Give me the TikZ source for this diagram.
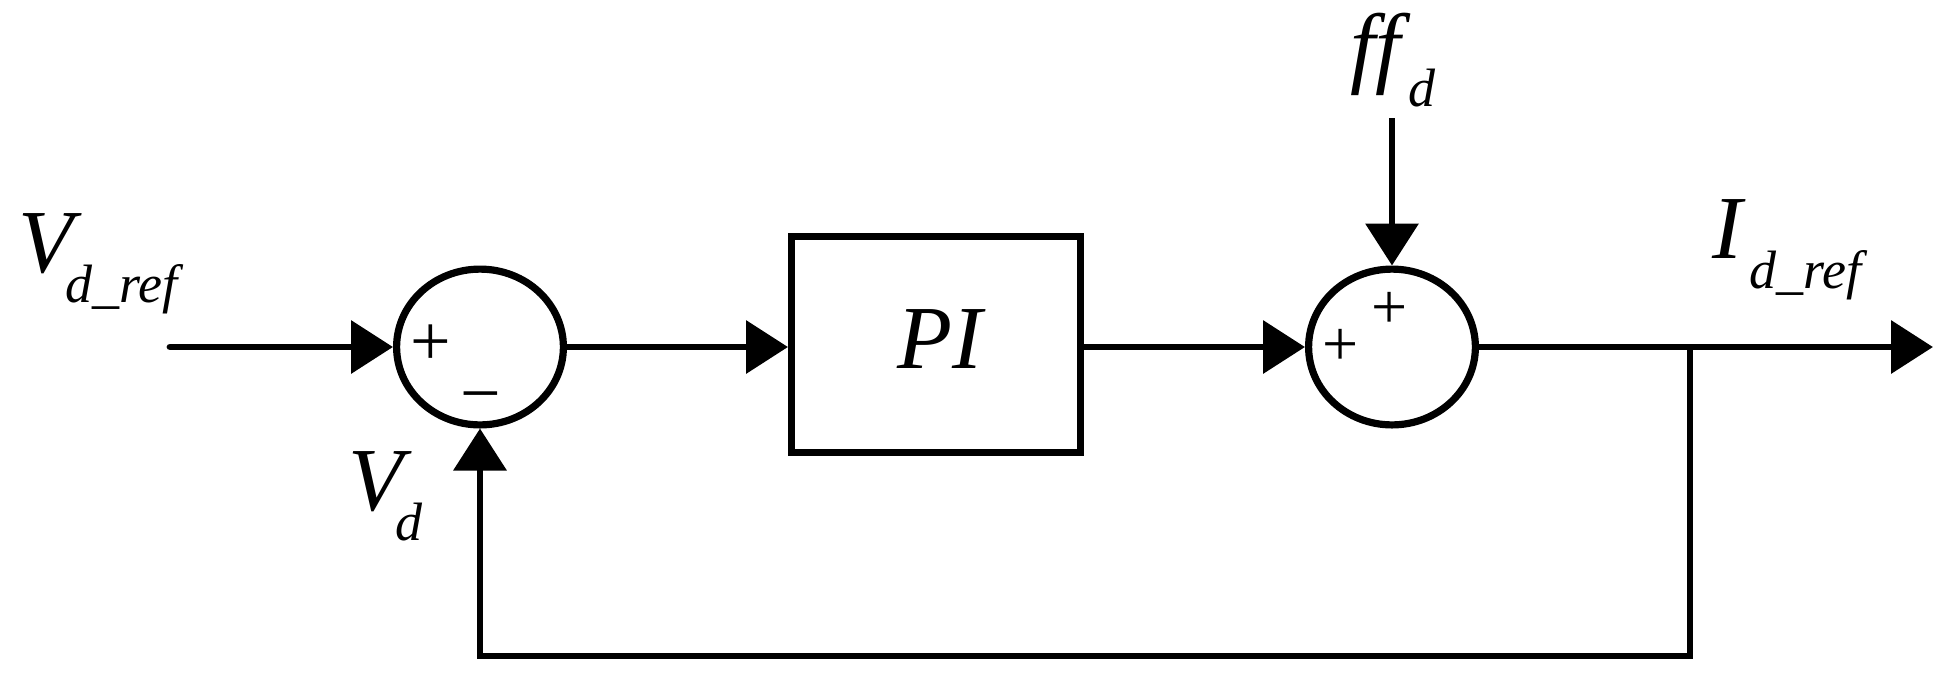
\documentclass[tikz,border=0pt]{standalone}
\usepackage{fontspec}
\setmainfont{Liberation Serif}
\usetikzlibrary{arrows.meta,shapes.geometric}
\begin{document}
\begin{tikzpicture}[x=0.5pt,y=-0.5pt,
  wire/.style={line width=3.4pt, -{Triangle[length=21pt,width=26pt]}},
  sumnode/.style={draw, ellipse, line width=3.6pt, minimum width=83.4pt, minimum height=77.9pt, inner sep=0pt},
  block/.style={draw, rectangle, line width=3.5pt, minimum width=144.5pt, minimum height=108pt, inner sep=0pt},
  lbl/.style={font=\fontsize{45}{45}\selectfont\itshape, inner sep=0pt, anchor=base west},
  sign/.style={font=\fontsize{36}{36}\selectfont, inner sep=0pt},
  smallsign/.style={font=\fontsize{32}{32}\selectfont, inner sep=0pt}]
\newcommand{\lblsub}[2]{\kern#1\raisebox{-15pt}{\fontsize{27}{27}\selectfont\itshape #2}}
\useasboundingbox (0,0) rectangle (1949,682);
% blocks
\node[sumnode] (s1) at (480,347) {};
\node[block] (pi) at (936,344.5) {};
\node[font=\fontsize{45}{45}\selectfont\itshape, inner sep=0pt, anchor=base west] (pitxt) at (897,368) {PI};
\node[sumnode] (s2) at (1392,347) {};
% coordinates
\coordinate (in) at (170,347);
\coordinate (ff) at (1392,118);
\coordinate (out) at (1933,347);
\coordinate (br) at (1690,347);
\coordinate (bl) at (1690,656);
\coordinate (bll) at (480,656);
% connectors
\draw[wire, line cap=round] (in) -- (s1);
\draw[wire] (s1.east) -- (pi.west |- s1.east);
\draw[wire] (pi.east |- s2.west) -- (s2.west);
\draw[wire] (ff) -- (s2.north);
\draw[wire] (s2.east) -- (out);
\draw[wire] (br) -- (bl) -- (bll) -- (s1.south);
% signs
\node[sign] (p1) at (431,345) {+};
\node[sign, anchor=base] (m1) at (481,417) {−};
\node[smallsign] (p2a) at (1341,347) {+};
\node[smallsign] (p2b) at (1390,310) {+};
% labels
\node[lbl] (vref) at (18,272) {V\lblsub{-4pt}{d\_ref}};
\node[lbl] (vd) at (348,510) {V\lblsub{-4pt}{d}};
\node[lbl] (ffl) at (1350,76) {ff\lblsub{4pt}{d}};
\node[lbl] (iref) at (1712,258) {I\lblsub{3.5pt}{d\_ref}};
\end{tikzpicture}
\end{document}
